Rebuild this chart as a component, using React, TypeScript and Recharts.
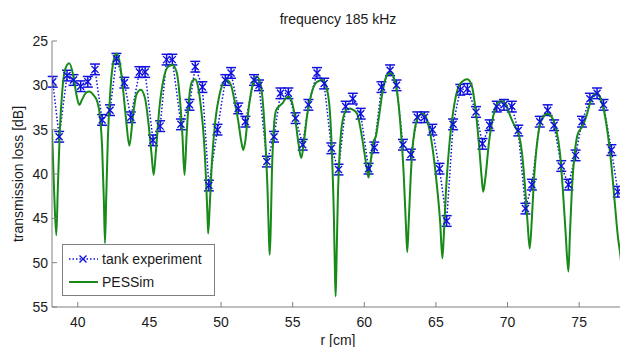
import { ErrorBar, Line, LineChart, XAxis, YAxis } from "recharts";

// tank experiment: [r (cm), transmission loss (dB)]
const tank: [number, number][] = [
  [38.25, 29.6], [38.7, 35.8], [39.25, 28.9], [39.7, 29.4], [40.2, 30.1],
  [40.7, 29.6], [41.2, 28.2], [41.7, 33.9], [42.25, 32.8], [42.7, 27.0],
  [43.25, 29.7], [43.7, 33.6], [44.3, 28.5], [44.7, 28.5], [45.25, 36.2],
  [45.75, 34.6], [46.2, 27.1], [46.6, 27.1], [47.2, 34.4], [47.8, 32.2],
  [48.2, 27.9], [48.7, 30.2], [49.15, 41.3], [49.75, 35.0], [50.3, 29.4],
  [50.7, 28.6], [51.2, 32.6], [51.7, 34.1], [52.3, 29.4], [52.65, 30.0],
  [53.2, 38.6], [53.7, 35.8], [54.15, 30.9], [54.7, 30.9], [55.2, 33.7],
  [55.7, 36.7], [56.1, 32.2], [56.7, 28.6], [57.2, 29.8], [57.7, 37.1],
  [58.2, 39.5], [58.7, 32.4], [59.2, 31.5], [59.75, 33.2], [60.3, 39.4],
  [60.7, 37.0], [61.2, 30.2], [61.8, 28.3], [62.25, 30.0], [62.7, 36.7],
  [63.25, 37.8], [63.7, 33.6], [64.2, 33.6], [64.75, 35.0], [65.25, 39.4],
  [65.75, 45.3], [66.2, 34.4], [66.7, 30.5], [67.2, 30.4], [67.8, 33.0],
  [68.25, 36.6], [68.75, 34.5], [69.25, 32.4], [69.75, 32.2], [70.3, 32.4],
  [70.75, 35.1], [71.25, 43.9], [71.7, 41.2], [72.25, 34.1], [72.8, 32.8],
  [73.25, 34.5], [73.75, 39.1], [74.25, 41.2], [74.75, 37.9], [75.2, 34.1],
  [75.75, 31.5], [76.25, 30.9], [76.7, 32.2], [77.25, 37.3], [77.7, 42.0],
];
const tankErr = 0.6;

// PESSim: [r (cm), transmission loss (dB)]
const pessim: [number, number][] = [
  [38.2, 35.0], [38.35, 42.0], [38.5, 46.9], [38.6, 42.0], [38.75, 35.0],
  [38.9, 31.0], [39.1, 28.3], [39.4, 27.5], [39.7, 29.0], [39.9, 31.0],
  [40.1, 32.2], [40.3, 31.6], [40.6, 30.8], [40.8, 30.7], [41.1, 31.1],
  [41.35, 31.8], [41.55, 33.5], [41.7, 37.0], [41.82, 43.0], [41.9, 47.8],
  [41.98, 43.0], [42.1, 36.0], [42.3, 30.0], [42.5, 27.2], [42.7, 26.4],
  [42.9, 27.2], [43.1, 29.5], [43.35, 33.5], [43.6, 36.8], [43.85, 33.5],
  [44.1, 31.0], [44.4, 30.5], [44.7, 31.5], [44.95, 34.5], [45.15, 37.8],
  [45.3, 40.1], [45.45, 37.5], [45.7, 32.5], [46.0, 29.2], [46.3, 27.9],
  [46.6, 27.7], [46.9, 28.5], [47.1, 31.0], [47.3, 35.5], [47.45, 40.1],
  [47.6, 35.5], [47.8, 31.0], [48.0, 29.5], [48.2, 29.3], [48.4, 30.2],
  [48.6, 32.5], [48.8, 36.0], [48.95, 40.5], [49.05, 44.5], [49.1, 46.7],
  [49.2, 44.0], [49.35, 39.0], [49.6, 34.0], [49.9, 31.0], [50.2, 29.6],
  [50.4, 29.4], [50.7, 30.0], [50.95, 31.8], [51.2, 34.0], [51.4, 36.2],
  [51.55, 37.3], [51.7, 36.2], [51.9, 33.0], [52.2, 30.0], [52.5, 29.0],
  [52.75, 29.8], [52.95, 32.5], [53.1, 36.5], [53.25, 42.0], [53.35, 47.5],
  [53.4, 49.1], [53.47, 46.0], [53.55, 40.0], [53.7, 34.5], [53.85, 32.8],
  [54.1, 32.3], [54.3, 32.0], [54.55, 31.4], [54.75, 31.3], [55.0, 32.2],
  [55.2, 34.0], [55.4, 36.5], [55.6, 38.2], [55.8, 36.2], [56.0, 33.5],
  [56.3, 31.0], [56.7, 29.6], [57.1, 29.4], [57.4, 30.5], [57.6, 33.0],
  [57.75, 38.0], [57.88, 45.0], [57.95, 51.0], [58.0, 53.8], [58.06, 50.0],
  [58.15, 43.0], [58.3, 37.0], [58.55, 33.5], [58.8, 32.7], [59.0, 32.6],
  [59.25, 32.8], [59.5, 33.2], [59.75, 35.0], [60.0, 37.5], [60.2, 39.6],
  [60.3, 40.4], [60.45, 38.5], [60.65, 36.3], [60.8, 35.8], [61.0, 33.8],
  [61.3, 30.5], [61.6, 28.8], [61.85, 28.6], [62.1, 29.3], [62.35, 31.5],
  [62.55, 35.0], [62.75, 40.0], [62.9, 45.5], [63.0, 48.8], [63.1, 45.5],
  [63.25, 40.0], [63.5, 35.2], [63.8, 33.5], [64.05, 33.2], [64.3, 33.6],
  [64.55, 35.0], [64.8, 37.5], [65.05, 41.0], [65.3, 45.5], [65.45, 49.5],
  [65.55, 47.0], [65.7, 42.0], [65.95, 36.5], [66.3, 32.0], [66.7, 29.8],
  [67.2, 29.3], [67.5, 30.0], [67.75, 32.5], [68.0, 36.5], [68.2, 40.5],
  [68.3, 42.0], [68.45, 40.5], [68.7, 36.5], [69.0, 33.5], [69.3, 32.0],
  [69.6, 31.8], [69.9, 32.2], [70.2, 33.5], [70.5, 34.6], [70.8, 35.6],
  [71.0, 37.5], [71.2, 41.0], [71.4, 45.5], [71.55, 48.4], [71.7, 45.0],
  [71.85, 40.5], [72.1, 36.0], [72.4, 33.8], [72.8, 33.2], [73.1, 33.6],
  [73.4, 35.0], [73.65, 37.5], [73.85, 41.5], [74.05, 46.5], [74.25, 51.0],
  [74.35, 47.0], [74.5, 41.5], [74.7, 37.5], [74.9, 35.5], [75.2, 34.7],
  [75.5, 33.5], [75.8, 31.8], [76.0, 31.1], [76.25, 30.9], [76.5, 31.5],
  [76.75, 33.0], [77.0, 35.5], [77.25, 39.0], [77.5, 43.5], [77.7, 47.0],
  [77.85, 48.8], [78.0, 50.5], [78.1, 47.0], [78.2, 42.0],
];

const rTicks = [40, 45, 50, 55, 60, 65, 70, 75];
const topTicks = [40, 50, 55, 60, 65, 70, 75];
const lossTicks = [25, 30, 35, 40, 45, 50, 55];

const tankData = tank.map(([r, loss]) => ({ r, loss, err: tankErr }));
const simData = pessim.map(([r, loss]) => ({ r, loss }));

const BLUE = "#0f0fe0";
const GREEN = "#178a17";
const AXIS = "#808080";
const FONT = "'Liberation Sans', Arial, sans-serif";

const Cross = (props: any) => {
  const { cx, cy } = props;
  if (cx == null || cy == null) return <g key={props.key} />;
  const s = 3.5;
  return (
    <path
      key={props.key}
      d={`M${cx - s},${cy - s}L${cx + s},${cy + s}M${cx - s},${cy + s}L${cx + s},${cy - s}`}
      stroke={BLUE}
      strokeWidth={1.4}
      fill="none"
    />
  );
};

// bottom tick: label plus inward tick mark (the 45 mark is missing in the original)
const BottomTick = (props: any) => {
  const { x, y, payload } = props;
  return (
    <g>
      {payload.value !== 45 && (
        <line x1={x} x2={x} y1={y} y2={y - 5} stroke={AXIS} />
      )}
      <text x={x} y={y + 20} textAnchor="middle" fontSize={14} fill="#1a1a1a" fontFamily={FONT}>
        {payload.value}
      </text>
    </g>
  );
};

export default function App() {
  return (
    <div
      style={{
        position: "absolute",
        left: 0,
        top: 0,
        width: 620,
        height: 347,
        overflow: "hidden",
        background: "#fff",
        fontFamily: FONT,
      }}
    >
      <LineChart width={640} height={347} margin={{ top: 41, right: 15, bottom: 0, left: 0 }}>
        <XAxis
          dataKey="r"
          type="number"
          domain={[38.2, 78.2]}
          ticks={rTicks}
          allowDataOverflow
          height={40}
          stroke={AXIS}
          tickLine={false}
          tickSize={0}
          tickMargin={0}
          tick={<BottomTick />}
        />
        <XAxis
          xAxisId="top"
          orientation="top"
          dataKey="r"
          type="number"
          domain={[38.2, 78.2]}
          ticks={topTicks}
          allowDataOverflow
          height={0}
          stroke={AXIS}
          tickSize={-5}
          tick={false}
        />
        <YAxis
          type="number"
          reversed
          domain={[25, 55]}
          ticks={lossTicks}
          allowDataOverflow
          width={52}
          stroke={AXIS}
          tickSize={-5}
          tickMargin={9}
          tick={{ fill: "#1a1a1a", fontSize: 14, fontFamily: FONT }}
        />
        <Line
          data={tankData}
          dataKey="loss"
          stroke={BLUE}
          strokeWidth={1.5}
          strokeDasharray="1.5 2"
          dot={(p: any) => <Cross {...p} />}
          activeDot={false}
          isAnimationActive={false}
        >
          <ErrorBar dataKey="err" direction="y" width={5} stroke={BLUE} strokeWidth={1.5} />
        </Line>
        <Line
          data={simData}
          dataKey="loss"
          type="monotone"
          stroke={GREEN}
          strokeWidth={2}
          dot={false}
          activeDot={false}
          isAnimationActive={false}
        />
      </LineChart>
      <svg
        width={620}
        height={347}
        style={{ position: "absolute", left: 0, top: 0, pointerEvents: "none" }}
        fontFamily={FONT}
      >
        <text x={338} y={24} textAnchor="middle" fontSize={14} fill="#1a1a1a">
          frequency 185 kHz
        </text>
        <text x={338} y={345} textAnchor="middle" fontSize={14} fill="#1a1a1a">
          r [cm]
        </text>
        <text
          x={0}
          y={0}
          transform="translate(23,174) rotate(-90)"
          textAnchor="middle"
          fontSize={14}
          fill="#1a1a1a"
        >
          transmission loss [dB]
        </text>
        <rect x={62.5} y={244.5} width={152} height={51} fill="#fff" stroke={AXIS} />
        <line x1={69} x2={98} y1={259} y2={259} stroke={BLUE} strokeWidth={1.5} strokeDasharray="1.5 2" />
        <path d="M79.5,255.5L86.5,262.5M79.5,262.5L86.5,255.5" stroke={BLUE} strokeWidth={1.4} />
        <text x={102} y={264} fontSize={14} fill="#1a1a1a">
          tank experiment
        </text>
        <line x1={69} x2={98} y1={282} y2={282} stroke={GREEN} strokeWidth={2} />
        <text x={102} y={287} fontSize={14} fill="#1a1a1a">
          PESSim
        </text>
      </svg>
    </div>
  );
}
